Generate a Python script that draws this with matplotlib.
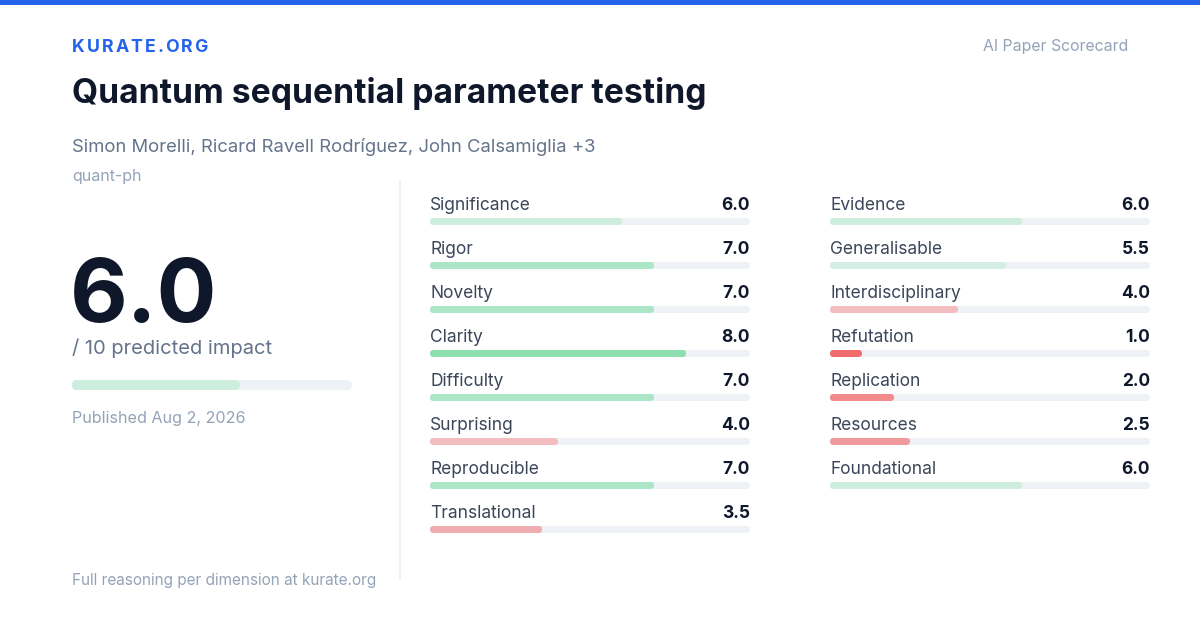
import matplotlib
matplotlib.use("Agg")
import matplotlib.pyplot as plt
from matplotlib.patches import FancyBboxPatch, Rectangle

plt.rcParams['font.family'] = ['Inter', 'DejaVu Sans']

# data
title = "Quantum sequential parameter testing"
authors = "Simon Morelli, Ricard Ravell Rodríguez, John Calsamiglia +3"
category = "quant-ph"
overall = 6.0
published = "Published Aug 2, 2026"

left_names = ["Significance", "Rigor", "Novelty", "Clarity", "Difficulty",
              "Surprising", "Reproducible", "Translational"]
left_scores = [6.0, 7.0, 7.0, 8.0, 7.0, 4.0, 7.0, 3.5]
right_names = ["Evidence", "Generalisable", "Interdisciplinary", "Refutation",
               "Replication", "Resources", "Foundational"]
right_scores = [6.0, 5.5, 4.0, 1.0, 2.0, 2.5, 6.0]

# colours by score
score_colors = {8.0: "#8ddfae", 7.0: "#abe6c6", 6.0: "#cdeedf", 5.5: "#d3efe3",
                4.0: "#f3bdc0", 3.5: "#f0adaf", 2.5: "#f19a9c", 2.0: "#f28a8b",
                1.0: "#ef6b6c"}
TRACK = "#eef2f7"
DARK = "#0f172a"
SLATE = "#64748b"
MUTED = "#94a3b8"
LABEL = "#3b4659"
BLUE = "#2563eb"

fig = plt.figure(figsize=(12, 6.3), dpi=100)
ax = fig.add_axes([0, 0, 1, 1])
ax.set_xlim(0, 1200)
ax.set_ylim(630, 0)
ax.axis('off')


def round_bar(x, y, w, h, color):
    # rounded bar spanning x..x+w, y..y+h in pixel coords
    r = h / 2
    inner = max(w - 2 * r, 0.01)
    ax.add_patch(FancyBboxPatch((x + r, y + r), inner, 0.0001,
                                boxstyle=f"round,pad={r},rounding_size={r}",
                                fc=color, ec="none", lw=0))


# top accent
ax.add_patch(Rectangle((0, 0), 1200, 5, fc=BLUE, ec="none"))

# brand with letter spacing
renderer = fig.canvas.get_renderer()
bx = 72
for ch in "KURATE.ORG":
    t = ax.text(bx, 47, ch, fontsize=12.8, fontweight="bold", color=BLUE,
                va="center", ha="left")
    bx += t.get_window_extent(renderer).width + 2.0

ax.text(1128, 47, "AI Paper Scorecard", fontsize=11.4, color=MUTED,
        va="center", ha="right")

ax.text(72, 93, title, fontsize=24.2, fontweight="bold", color=DARK,
        va="center", ha="left")
ax.text(72, 147, authors, fontsize=13.3, color=SLATE, va="center", ha="left")
ax.text(72, 176, category, fontsize=11.5, color=MUTED, va="center", ha="left")

# overall score
ax.text(70, 322, f"{overall:.1f}", fontsize=64, fontweight="bold", color=DARK,
        va="baseline", ha="left")
ax.text(72, 348, "/ 10 predicted impact", fontsize=14.5, color=SLATE,
        va="center", ha="left")
track_x, track_w = 72, 280
round_bar(track_x, 380, track_w, 10, TRACK)
round_bar(track_x, 380, track_w * overall / 10, 10, score_colors[overall])
ax.text(72, 419, published, fontsize=11.65, color=MUTED, va="center", ha="left")
ax.text(72, 581, "Full reasoning per dimension at kurate.org", fontsize=11.05,
        color=MUTED, va="center", ha="left")

# divider
ax.plot([400, 400], [180, 580], color="#eef1f5", lw=1.5, solid_capstyle="butt")

# dimension columns
row_step = 44
for col_x, names, scores in [(430, left_names, left_scores),
                             (830, right_names, right_scores)]:
    col_w = 320
    for i, (name, val) in enumerate(zip(names, scores)):
        y0 = 204 + i * row_step
        ax.text(col_x, y0 + 1.5, name, fontsize=12.5, color=LABEL,
                va="center", ha="left")
        ax.text(col_x + col_w, y0 + 1.5, f"{val:.1f}", fontsize=12.5,
                fontweight="bold", color=DARK, va="center", ha="right")
        round_bar(col_x, y0 + 14, col_w, 7, TRACK)
        round_bar(col_x, y0 + 14, col_w * val / 10, 7, score_colors[val])

fig.savefig("out.png", dpi=100, facecolor="white")
